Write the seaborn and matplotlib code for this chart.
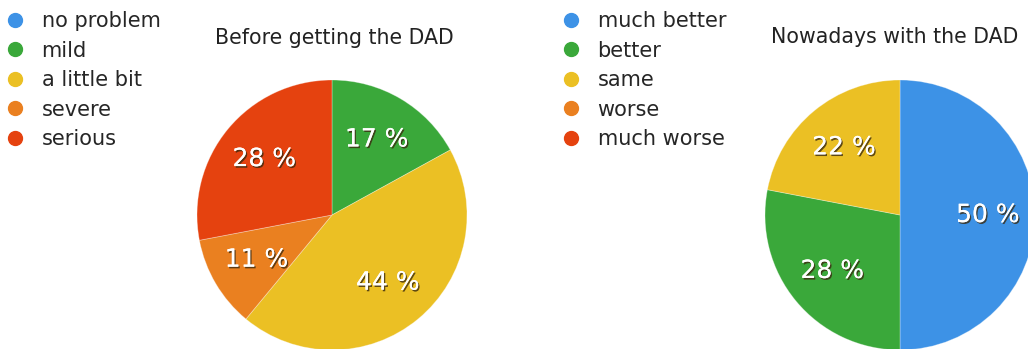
import matplotlib
matplotlib.use("Agg")
import matplotlib.pyplot as plt
import matplotlib.patheffects as pe
from matplotlib.lines import Line2D
import seaborn as sns

sns.set_theme(style="white")
plt.rcParams["font.family"] = ["DejaVu Sans"]

# Survey answers before getting the DAD
before_labels = ["no problem", "mild", "a little bit", "severe", "serious"]
before_values = [0, 17, 44, 11, 28]
before_title = "Before getting the DAD"

# Survey answers nowadays with the DAD
after_labels = ["much better", "better", "same", "worse", "much worse"]
after_values = [50, 28, 22, 0, 0]
after_title = "Nowadays with the DAD"

palette = sns.color_palette(["#3d92e6", "#3aa83a", "#ebc024", "#ea8020", "#e5420f"])

W, H = 1028, 349
fig = plt.figure(figsize=(W / 100, H / 100), dpi=100)
fig.patch.set_facecolor("white")


def px_axes(cx, cy, r):
    """Axes of side 2r centred on pixel (cx, cy), y measured from the top."""
    return fig.add_axes([(cx - r) / W, (H - cy - r) / H, 2 * r / W, 2 * r / H])


def draw_pie(ax, values):
    wedges, texts, autotexts = ax.pie(
        values,
        colors=palette,
        startangle=90,
        counterclock=False,
        autopct=lambda p: f"{p:.0f} %" if p > 0.5 else "",
        pctdistance=0.65,
        radius=1.0,
        wedgeprops=dict(linewidth=0.6, edgecolor=(1, 1, 1, 0.35)),
        textprops=dict(color="white", fontsize=18),
    )
    for w, v in zip(wedges, values):
        if v == 0:
            w.set_visible(False)
    for t in autotexts:
        t.set_path_effects([
            pe.withSimplePatchShadow(offset=(1, -1.2), shadow_rgbFace="#3a2a10", alpha=0.8),
            pe.Normal(),
        ])
    ax.set_xlim(-1, 1)
    ax.set_ylim(-1, 1)
    ax.set_aspect("equal")
    ax.axis("off")


def draw_legend(x, y, labels):
    handles = [
        Line2D([], [], marker="o", linestyle="none", markersize=10,
               markerfacecolor=c, markeredgecolor=c)
        for c in palette
    ]
    fig.legend(
        handles, labels,
        loc="upper left",
        bbox_to_anchor=(x / W, 1 - y / H),
        frameon=False,
        fontsize=15,
        handletextpad=0.7,
        handlelength=1.2,
        labelspacing=0.46,
        borderpad=0,
        borderaxespad=0,
    )


ax1 = px_axes(332, 215, 135)
draw_pie(ax1, before_values)
ax2 = px_axes(900, 215, 135)
draw_pie(ax2, after_values)

draw_legend(2, 11, before_labels)
draw_legend(558, 11, after_labels)

fig.text(334 / W, 1 - 38 / H, before_title, ha="center", va="center",
         fontsize=14.8, color="#222222")
fig.text(771 / W, 1 - 37 / H, after_title, ha="left", va="center",
         fontsize=14.8, color="#222222")

fig.savefig("out.png", dpi=100, facecolor="white")
